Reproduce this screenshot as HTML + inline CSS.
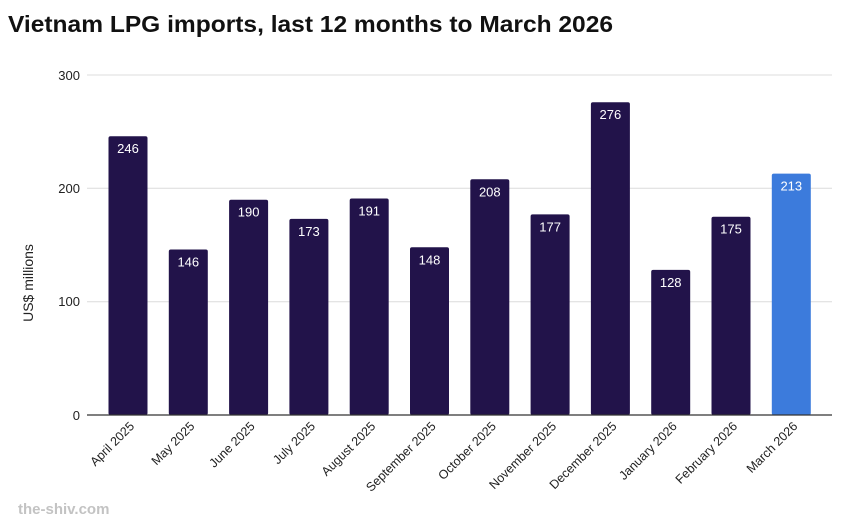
<!DOCTYPE html>
<html><head><meta charset="utf-8"><style>
body{margin:0;background:#fff;}
svg{display:block;font-family:"Liberation Sans",sans-serif;}
</style></head><body>
<svg width="856" height="529" viewBox="0 0 856 529" xmlns="http://www.w3.org/2000/svg">
<text x="8" y="32" font-size="23" font-weight="bold" fill="#111" textLength="605" lengthAdjust="spacingAndGlyphs">Vietnam LPG imports, last 12 months to March 2026</text>
<g stroke="#dcdcdc" stroke-width="1">
<line x1="87" y1="75" x2="832" y2="75"/>
<line x1="87" y1="188.3" x2="832" y2="188.3"/>
<line x1="87" y1="301.7" x2="832" y2="301.7"/>
</g>
<g font-size="13" fill="#222" text-anchor="end">
<text x="80" y="80">300</text>
<text x="80" y="193">200</text>
<text x="80" y="306">100</text>
<text x="80" y="420">0</text>
</g>
<text transform="translate(33,283) rotate(-90)" font-size="14" fill="#222" text-anchor="middle">US$ millions</text>
<g fill="#22134a">
<rect x="108.5" y="136.2" width="39" height="278.8" rx="2"/>
<rect x="168.8" y="249.5" width="39" height="165.5" rx="2"/>
<rect x="229.1" y="199.7" width="39" height="215.3" rx="2"/>
<rect x="289.4" y="218.9" width="39" height="196.1" rx="2"/>
<rect x="349.7" y="198.5" width="39" height="216.5" rx="2"/>
<rect x="410" y="247.3" width="39" height="167.7" rx="2"/>
<rect x="470.3" y="179.3" width="39" height="235.7" rx="2"/>
<rect x="530.6" y="214.4" width="39" height="200.6" rx="2"/>
<rect x="590.9" y="102.2" width="39" height="312.8" rx="2"/>
<rect x="651.2" y="269.9" width="39" height="145.1" rx="2"/>
<rect x="711.5" y="216.7" width="39" height="198.3" rx="2"/>
<rect x="771.8" y="173.6" width="39" height="241.4" rx="2" fill="#3c7bdc"/>
</g>
<g font-size="13" fill="#fff" text-anchor="middle">
<text x="128" y="153.2">246</text>
<text x="188.3" y="266.5">146</text>
<text x="248.6" y="216.7">190</text>
<text x="308.9" y="235.9">173</text>
<text x="369.2" y="215.5">191</text>
<text x="429.5" y="264.3">148</text>
<text x="489.8" y="196.3">208</text>
<text x="550.1" y="231.4">177</text>
<text x="610.4" y="119.2">276</text>
<text x="670.7" y="286.9">128</text>
<text x="731" y="233.7">175</text>
<text x="791.3" y="190.6">213</text>
</g>
<line x1="87" y1="415" x2="832" y2="415" stroke="#333" stroke-width="1.2"/>
<g font-size="12.5" fill="#222" text-anchor="end">
<text transform="translate(135,427) rotate(-45)">April 2025</text>
<text transform="translate(195.3,427) rotate(-45)">May 2025</text>
<text transform="translate(255.6,427) rotate(-45)">June 2025</text>
<text transform="translate(315.9,427) rotate(-45)">July 2025</text>
<text transform="translate(376.2,427) rotate(-45)">August 2025</text>
<text transform="translate(436.5,427) rotate(-45)">September 2025</text>
<text transform="translate(496.8,427) rotate(-45)">October 2025</text>
<text transform="translate(557.1,427) rotate(-45)">November 2025</text>
<text transform="translate(617.4,427) rotate(-45)">December 2025</text>
<text transform="translate(677.7,427) rotate(-45)">January 2026</text>
<text transform="translate(738,427) rotate(-45)">February 2026</text>
<text transform="translate(798.3,427) rotate(-45)">March 2026</text>
</g>
<text x="18" y="514" font-size="15" font-weight="bold" fill="#c3c3c3">the-shiv.com</text>
</svg>
</body></html>
